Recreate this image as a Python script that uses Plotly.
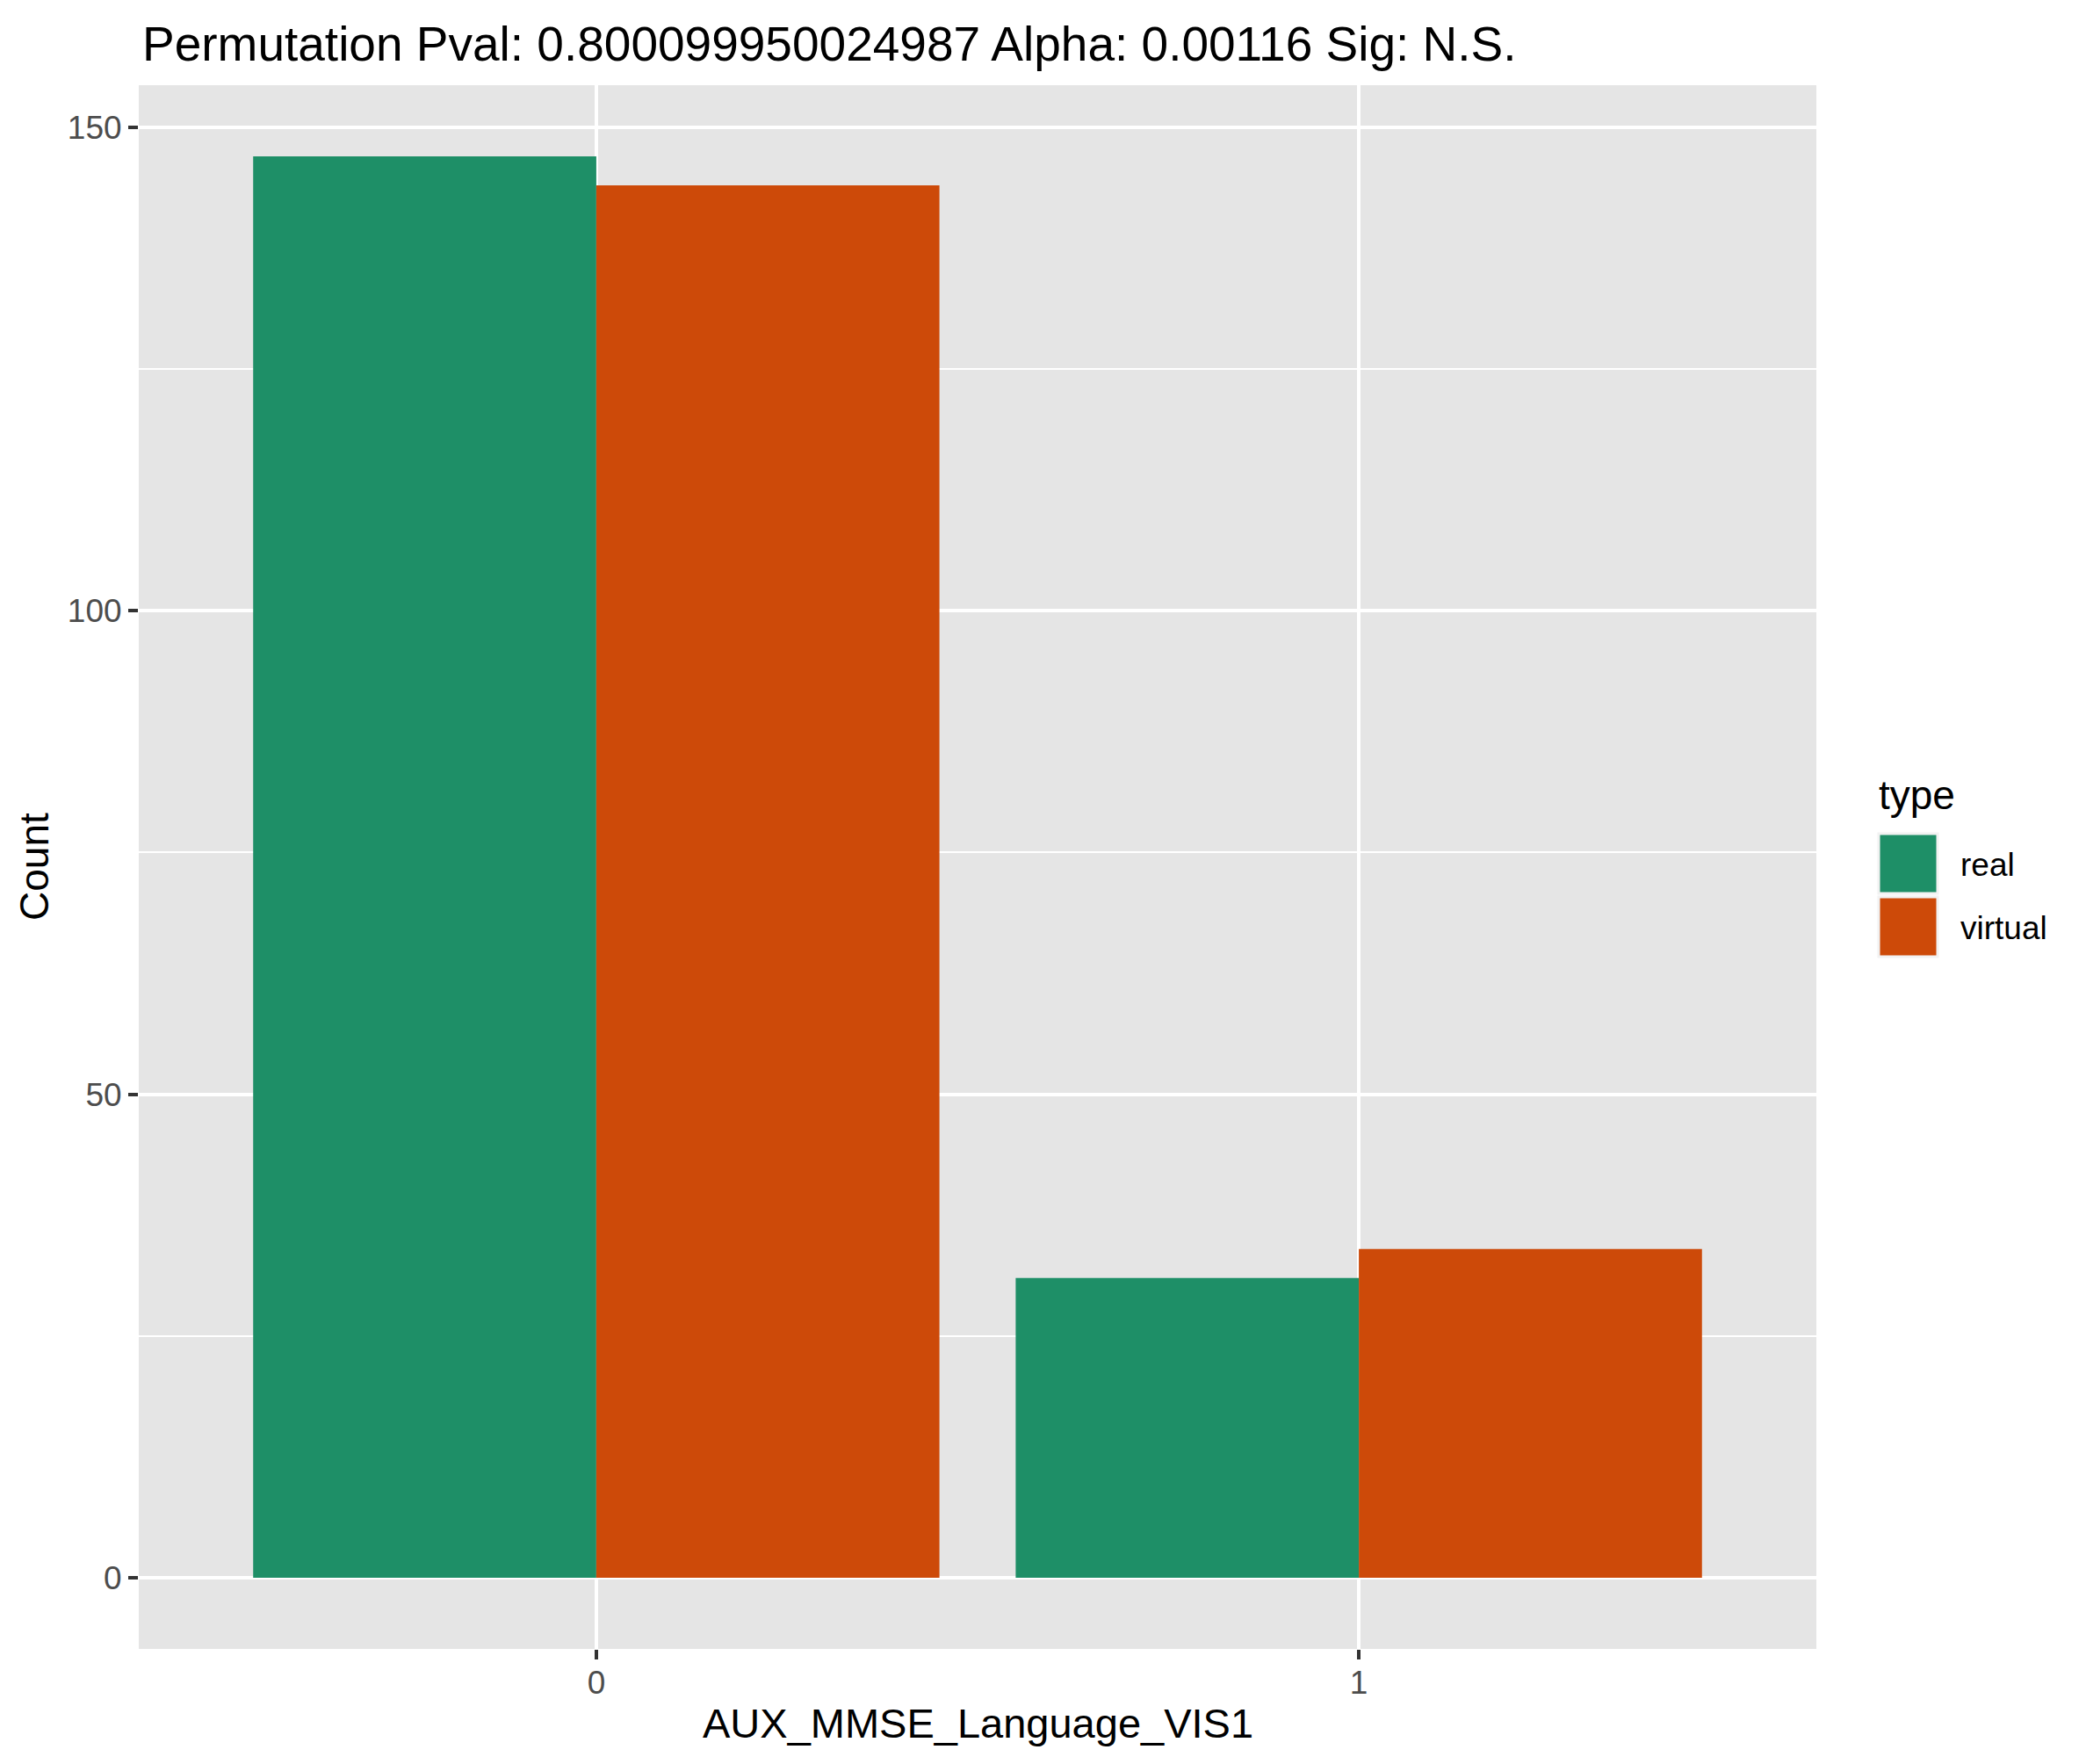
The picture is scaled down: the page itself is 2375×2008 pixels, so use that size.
import plotly.graph_objects as go

# counts
categories = [0, 1]
types = ["real", "virtual"]
real_counts = [147, 31]
virtual_counts = [144, 34]
colors = ["#1E8F67", "#CD4A09"]
y_ticks = [0, 50, 100, 150]

title_text = "Permutation Pval: 0.800099950024987 Alpha: 0.00116 Sig: N.S."
x_title = "AUX_MMSE_Language_VIS1"
y_title = "Count"

FONT = "Liberation Sans, Arial, Helvetica, sans-serif"
OFF = 8  # page body margin, figure is drawn 8px in from the corner
W, H = 2375 - OFF, 2008 - OFF
L, T = 158 - OFF, 97 - OFF
R, B = W - (2068 - OFF), H - (1877 - OFF)
PW, PH = W - L - R, H - T - B


def px(x):
    # x in screenshot pixels -> paper coords
    return (x - OFF - L) / PW


def py(y):
    return 1 - (y - OFF - T) / PH


fig = go.Figure()
for name, vals, col in zip(types, [real_counts, virtual_counts], colors):
    fig.add_trace(go.Bar(x=categories, y=vals, name=name,
                         marker=dict(color=col, line=dict(width=0)),
                         showlegend=False))

top = max(real_counts + virtual_counts)
pad = top * 0.05

fig.update_layout(
    width=W, height=H,
    margin=dict(l=L, r=R, t=T, b=B),
    paper_bgcolor="white",
    plot_bgcolor="#E5E5E5",
    barmode="group", bargap=0.1, bargroupgap=0,
    font=dict(family=FONT, color="#000000"),
)

fig.update_xaxes(
    range=[-0.6, 1.6], tickvals=categories, ticktext=[str(c) for c in categories],
    showgrid=True, gridcolor="white", gridwidth=4, zeroline=False,
    ticks="outside", ticklen=11, tickwidth=4, tickcolor="#333333",
    tickfont=dict(size=37, color="#4D4D4D"), ticklabelstandoff=-5,
)
fig.update_yaxes(
    range=[-pad, top + pad], tickvals=y_ticks,
    showgrid=True, gridcolor="white", gridwidth=4, zeroline=False,
    minor=dict(dtick=25, tick0=0, showgrid=True, gridcolor="white", gridwidth=2),
    ticks="outside", ticklen=11, tickwidth=4, tickcolor="#333333",
    tickfont=dict(size=37, color="#4D4D4D"),
)

# title and axis titles
fig.add_annotation(text=title_text, xref="paper", yref="paper",
                   x=px(160), y=py(50), xanchor="left", yanchor="middle",
                   showarrow=False, font=dict(size=55, color="black"))
fig.add_annotation(text=x_title, xref="paper", yref="paper",
                   x=0.5, y=py(1961), xanchor="center", yanchor="middle",
                   showarrow=False, font=dict(size=47, color="black"))
fig.add_annotation(text=y_title, xref="paper", yref="paper", textangle=-90,
                   x=px(39), y=0.5, xanchor="center", yanchor="middle",
                   showarrow=False, font=dict(size=46, color="black"))

# ggplot-style legend drawn beside the panel
kx0, kw, kh, ky0 = 2139, 67, 68, 949
fig.add_annotation(text="type", xref="paper", yref="paper",
                   x=px(2137), y=py(905), xanchor="left", yanchor="middle",
                   showarrow=False, font=dict(size=46, color="black"))
for i, (name, col) in enumerate(zip(types, colors)):
    y0 = ky0 + i * (kh + 4)
    fig.add_shape(type="rect", xref="paper", yref="paper",
                  x0=px(kx0), x1=px(kx0 + kw), y0=py(y0 + kh), y1=py(y0),
                  fillcolor=col, line=dict(color="#F2F2F2", width=3))
    fig.add_annotation(text=name, xref="paper", yref="paper",
                       x=px(2230), y=py(y0 + kh / 2 + 1),
                       xanchor="left", yanchor="middle", showarrow=False,
                       font=dict(size=37, color="black"))

fig.write_html("out.html")
